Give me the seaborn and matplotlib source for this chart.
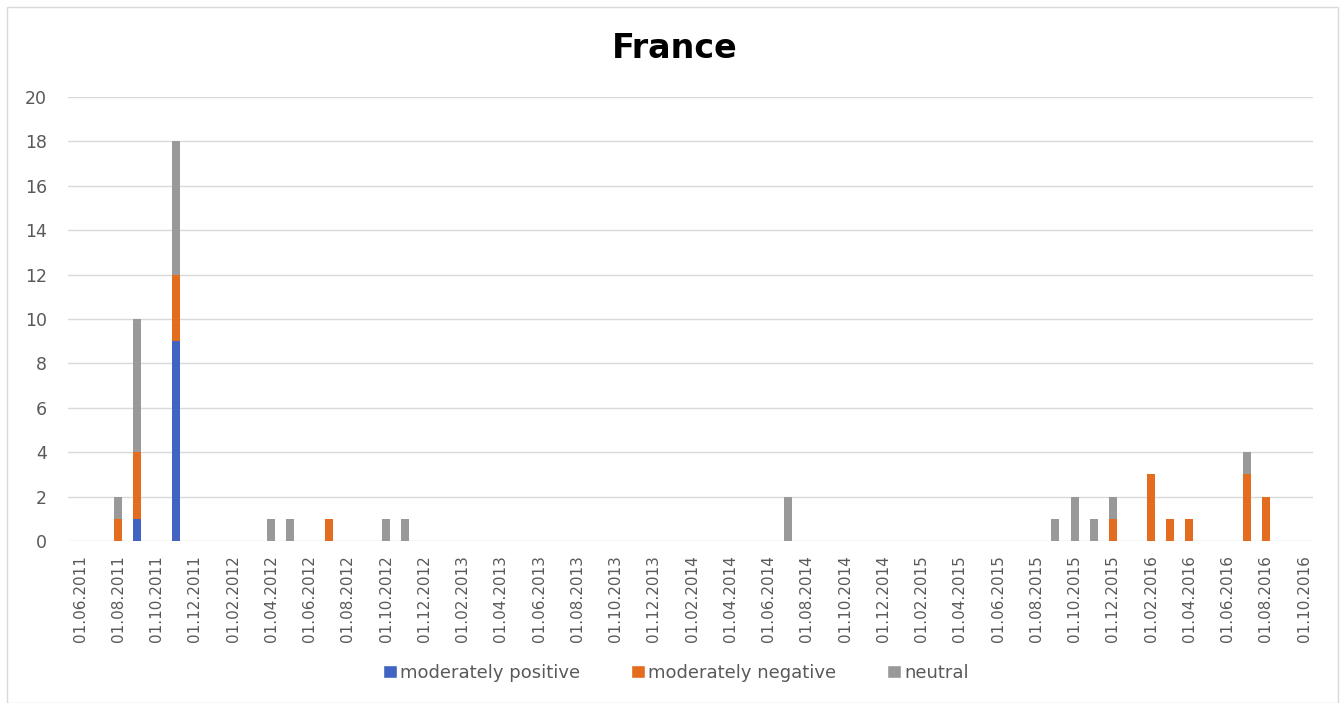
import pandas as pd
import matplotlib.pyplot as plt
import seaborn as sns
from matplotlib.patches import Patch, Rectangle

# --- data: number of articles per month ---
months = ["2011-08", "2011-09", "2011-11", "2012-04", "2012-05", "2012-07",
          "2012-10", "2012-11", "2014-07", "2015-09", "2015-10", "2015-11",
          "2015-12", "2016-02", "2016-03", "2016-04", "2016-07", "2016-08"]
positive = [0, 1, 9, 0, 0, 0, 0, 0, 0, 0, 0, 0, 0, 0, 0, 0, 0, 0]
negative = [1, 3, 3, 0, 0, 1, 0, 0, 0, 0, 0, 0, 1, 3, 1, 1, 3, 2]
neutral = [1, 6, 6, 1, 1, 0, 1, 1, 2, 1, 2, 1, 1, 0, 0, 0, 1, 0]

series_names = ["moderately positive", "moderately negative", "neutral"]
colors = ["#4164C2", "#E36C1E", "#999999"]

tick_dates = pd.date_range("2011-06-01", "2016-10-01", freq="2MS")
start = tick_dates[0]


def month_index(d):
    return (d.year - start.year) * 12 + d.month - start.month


df = pd.DataFrame({"month": pd.to_datetime(months)})
df["m"] = df["month"].apply(month_index)
df["pos_top"] = positive
df["neg_top"] = df["pos_top"] + pd.Series(negative)
df["neu_top"] = df["neg_top"] + pd.Series(neutral)

# --- plot ---
sns.set_style("whitegrid")
plt.rcParams["font.family"] = ["DejaVu Sans"]

fig = plt.figure(figsize=(13.44, 7.03), dpi=100)
ax = fig.add_axes([0.0506, 0.2304, 0.9264, 0.6316])
ax.set_axisbelow(True)

# stacked bars: draw the cumulative totals from the top segment down
for col, c in zip(["neu_top", "neg_top", "pos_top"], colors[::-1]):
    sns.barplot(data=df, x="m", y=col, native_scale=True, color=c,
                width=0.42, saturation=1, errorbar=None, ax=ax, linewidth=0)

ax.set_xlim(-0.63, 64.47)
ax.set_ylim(0, 20)
ax.set_yticks(range(0, 21, 2))
ax.set_xticks([month_index(d) for d in tick_dates])
ax.set_xticklabels([d.strftime("%d.%m.%Y") for d in tick_dates], rotation=90)
ax.tick_params(axis="both", length=0, labelcolor="#595959")
ax.tick_params(axis="x", pad=10, labelsize=11)
ax.tick_params(axis="y", pad=15, labelsize=12.5)
ax.grid(axis="x", visible=False)
ax.grid(axis="y", color="#D9D9D9", linewidth=1)
ax.set_xlabel("")
ax.set_ylabel("")
for s in ax.spines.values():
    s.set_visible(False)

fig.text(0.502, 0.931, "France", ha="center", va="center",
         fontsize=24, fontweight="bold", color="black")

handles = [Patch(facecolor=c, label=n) for c, n in zip(colors, series_names)]
fig.legend(handles=handles, loc="center", bbox_to_anchor=(0.503, 0.043), ncol=3,
           frameon=False, fontsize=13, labelcolor="#595959", handlelength=0.75,
           handleheight=0.75, handletextpad=0.2, columnspacing=2.8)

fig.patches.append(Rectangle((0.0052, 0.0), 0.99, 0.99, transform=fig.transFigure,
                             fill=False, edgecolor="#D9D9D9", linewidth=1))

fig.savefig("out.png", dpi=100, facecolor="white")
